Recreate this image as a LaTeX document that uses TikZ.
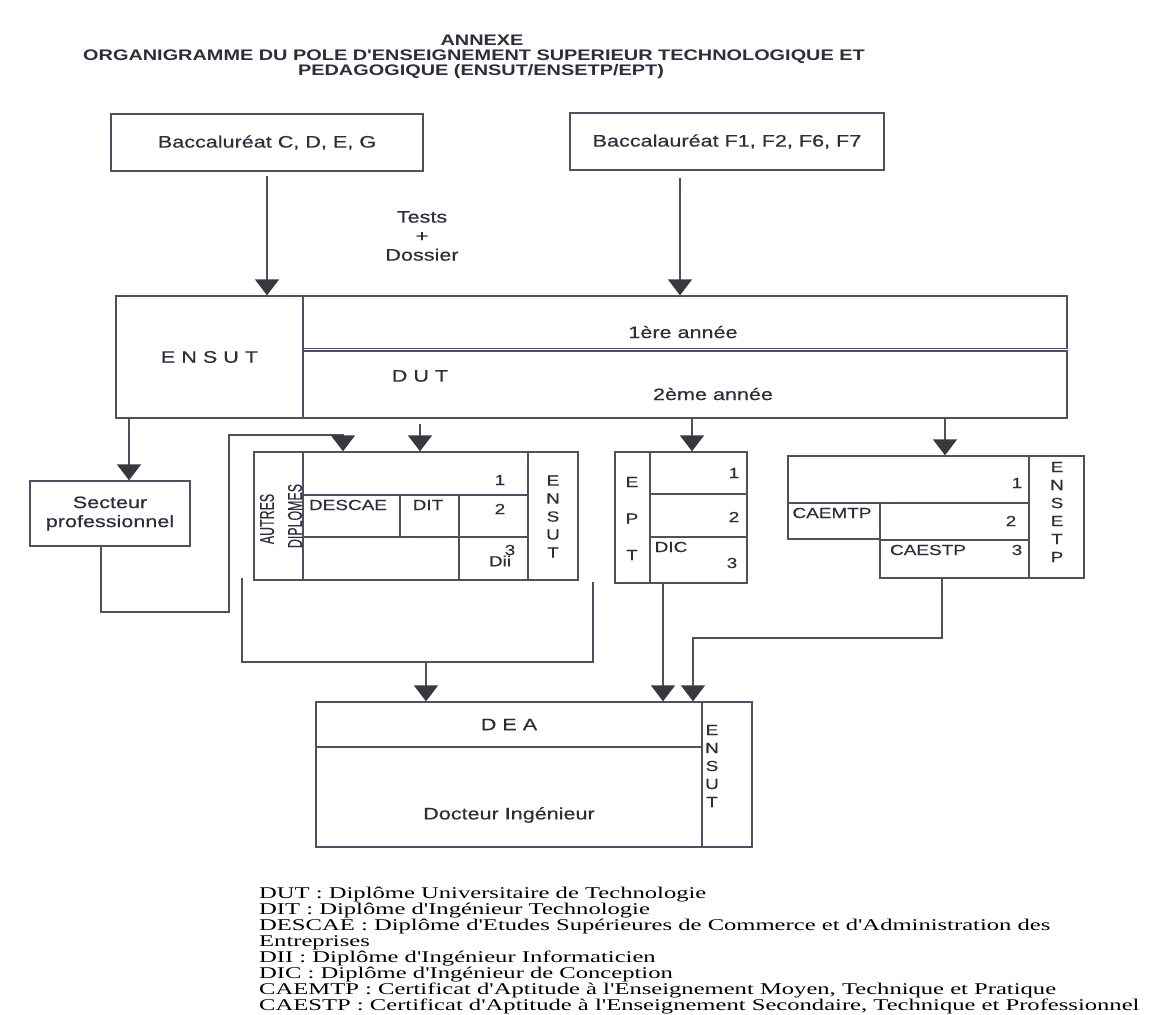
\documentclass[tikz,border=0pt]{standalone}
\usepackage{fontspec}
\usetikzlibrary{arrows.meta}
\newfontfamily\wsans[FakeStretch=1.3,FakeBold=0.4]{Liberation Sans}
\newfontfamily\tsans[FakeStretch=1.3]{Liberation Sans}
\newfontfamily\psans[FakeBold=0.4]{Liberation Sans}
\newfontfamily\wserif[FakeStretch=1.5]{Liberation Serif}
\definecolor{ln}{HTML}{4F4F66}
\definecolor{tx}{HTML}{2D2D3D}
\definecolor{ah}{HTML}{38383F}
\tikzset{
  lne/.style={draw=ln, line width=1.3pt},
  bx/.style={draw=ln, line width=1.3pt, rectangle, inner sep=0pt},
  arr/.style={draw=ln, line width=1.3pt, -{Triangle[width=24pt,length=16pt,color=ah]}},
  txt/.style={text=tx, inner sep=0pt, font=\wsans\fontsize{16.6}{19}\selectfont},
  sml/.style={text=tx, inner sep=0pt, font=\wsans\fontsize{14.6}{18}\selectfont},
  ttl/.style={text=tx, inner sep=0pt, font=\tsans\bfseries\fontsize{15.3}{18}\selectfont},
  leg/.style={text=black, inner sep=0pt, anchor=base west, font=\wserif\fontsize{16.4}{16}\selectfont},
}
\begin{document}
\begin{tikzpicture}[x=1pt,y=-1pt]
\useasboundingbox[fill=white] (0,0) rectangle (1150,1014);

% title
\node[ttl] (t0) at (482,40) {ANNEXE};
\node[ttl] (t1) at (474,57) {ORGANIGRAMME DU POLE D'ENSEIGNEMENT SUPERIEUR TECHNOLOGIQUE ET};
\node[ttl] (t2) at (481,72) {PEDAGOGIQUE (ENSUT/ENSETP/EPT)};

% baccalaureat boxes
\node[bx, txt, minimum width=312pt, minimum height=57pt] (bac1) at (267,142.5) {Baccaluréat C, D, E, G};
\node[bx, txt, minimum width=314pt, minimum height=57pt] (bac2) at (727,141.5) {Baccalauréat F1, F2, F6, F7};
\node[txt, align=center] (tests) at (422,236) {Tests\\+\\Dossier};

% ENSUT / DUT band
\node[bx, txt, minimum width=187pt, minimum height=122pt] (ensut) at (209.5,357) {E N S U T};
\node[bx, minimum width=764pt, minimum height=52.5pt] (band1) at (685,322.25) {};
\node[bx, minimum width=764pt, minimum height=67pt] (band2) at (685,384.5) {};
\node[txt] (an1) at (683,332) {1ère année};
\node[txt] (dut) at (420,376) {D U T};
\node[txt] (an2) at (713,394) {2ème année};

\draw[arr] ([yshift=-4pt]bac1.south) -- (bac1.south |- ensut.north);
\draw[arr] ([xshift=-47pt,yshift=-7pt]bac2.south) -- ([xshift=-47pt]bac2.south |- band1.north);

% secteur professionnel
\node[bx, txt, align=center, minimum width=160pt, minimum height=65pt] (sect) at (110,513.5) {Secteur\\professionnel};
\draw[arr] ([xshift=-80.5pt]ensut.south) -- ([xshift=-80.5pt]ensut.south |- sect.north);

% ENSUT diploma table
\node[bx, minimum width=324pt, minimum height=128pt] (tab1) at (416,516) {};
\draw[lne] (303,452) -- (303,580);
\draw[lne] (528,452) -- (528,580);
\draw[lne] (303,495) -- (528,495);
\draw[lne] (303,537) -- (528,537);
\draw[lne] (400,495) -- (400,537);
\draw[lne] (459,495) -- (459,580);
\node[rotate=90, text=tx, inner sep=0pt] (autres) at (267,519) {\scalebox{0.62}[1]{\psans\fontsize{20}{22}\selectfont AUTRES}};
\node[rotate=90, text=tx, inner sep=0pt] (dipl) at (295,516) {\scalebox{0.62}[1]{\psans\fontsize{20}{22}\selectfont DIPLOMES}};
\node[sml] (a1) at (500,480) {1};
\node[sml] (descae) at (348,505) {DESCAE};
\node[sml] (dit) at (428,505) {DIT};
\node[sml] (a2) at (500,509) {2};
\node[sml] (dii) at (500,561) {Dii};
\node[sml] (a3) at (510,550) {3};
\node[sml, align=center] (ensut2) at (553,516.5) {E\\N\\S\\U\\T};

\coordinate (l1) at (229,612);
\coordinate (l2) at (343,435);
\draw[arr] ([xshift=-9pt]sect.south) |- (l1) |- (l2) -- (l2 |- tab1.north);
\draw[arr] ([xshift=-265pt,yshift=-5pt]band2.south) -- ([xshift=-265pt]band2.south |- tab1.north);

% EPT table
\node[bx, minimum width=132pt, minimum height=131pt] (ept) at (681,517.5) {};
\draw[lne] (650,452) -- (650,583);
\draw[lne] (650,494) -- (747,494);
\draw[lne] (650,537) -- (747,537);
\node[sml, align=center, font=\wsans\fontsize{14.6}{36.5}\selectfont] (eptl) at (632,518.5) {E\\P\\T};
\node[sml] (e1) at (734,473) {1};
\node[sml] (e2) at (734,517) {2};
\node[sml] (dic) at (671,547) {DIC};
\node[sml] (e3) at (732,563) {3};
\draw[arr] ([xshift=7pt]band2.south) -- ([xshift=7pt]band2.south |- ept.north);

% ENSETP table
\node[bx, minimum width=241pt, minimum height=47pt] (es1) at (908.5,479.5) {};
\node[bx, minimum width=92pt, minimum height=36pt] (caem) at (834,521) {};
\node[bx, minimum width=149pt, minimum height=37pt] (es2) at (954.5,521.5) {};
\node[bx, minimum width=149pt, minimum height=38pt] (caes) at (954.5,559) {};
\node[bx, minimum width=55pt, minimum height=122pt] (ensetp) at (1056.5,517) {};
\node[sml] (s1) at (1017,483) {1};
\node[sml] (caemtp) at (832,513) {CAEMTP};
\node[sml] (s2) at (1011,521) {2};
\node[sml] (caestp) at (928,550) {CAESTP};
\node[sml] (s3) at (1017,550) {3};
\node[sml, align=center] (ensetpl) at (1057,512) {E\\N\\S\\E\\T\\P};
\draw[arr] ([xshift=260pt]band2.south) -- ([xshift=260pt]band2.south |- es1.north);

% DEA
\node[bx, txt, minimum width=386pt, minimum height=45pt] (dea) at (509,724.5) {D E A};
\node[bx, minimum width=386pt, minimum height=100pt] (doc) at (509,797) {};
\node[txt] (doct) at (509,815) {Docteur Ingénieur};
\node[bx, minimum width=50pt, minimum height=145pt] (deae) at (727,774.5) {};
\node[sml, align=center] (deael) at (712,766) {E\\N\\S\\U\\T};

\coordinate (bl) at (242,578);
\coordinate (br) at (593,582);
\coordinate (bj) at (426,662);
\draw[lne] (bl) |- (bj) -| (br);
\draw[arr] (bj) -- (bj |- dea.north);
\draw[arr] ([xshift=-18pt]ept.south) -- ([xshift=-18pt]ept.south |- dea.north);
\coordinate (ej) at (693,638);
\draw[arr] ([xshift=-12.5pt]caes.south) |- (ej) -- (ej |- dea.north);

% legend
\node[leg] (g1) at (259,898) {DUT : Diplôme Universitaire de Technologie};
\node[leg] (g2) at (259,914) {DIT : Diplôme d'Ingénieur Technologie};
\node[leg] (g3) at (259,930) {DESCAE : Diplôme d'Etudes Supérieures de Commerce et d'Administration des};
\node[leg] (g4) at (259,946) {Entreprises};
\node[leg] (g5) at (259,962) {DII : Diplôme d'Ingénieur Informaticien};
\node[leg] (g6) at (259,978) {DIC : Diplôme d'Ingénieur de Conception};
\node[leg] (g7) at (259,994) {CAEMTP : Certificat d'Aptitude à l'Enseignement Moyen, Technique et Pratique};
\node[leg] (g8) at (259,1010) {CAESTP : Certificat d'Aptitude à l'Enseignement Secondaire, Technique et Professionnel};
\end{tikzpicture}
\end{document}
